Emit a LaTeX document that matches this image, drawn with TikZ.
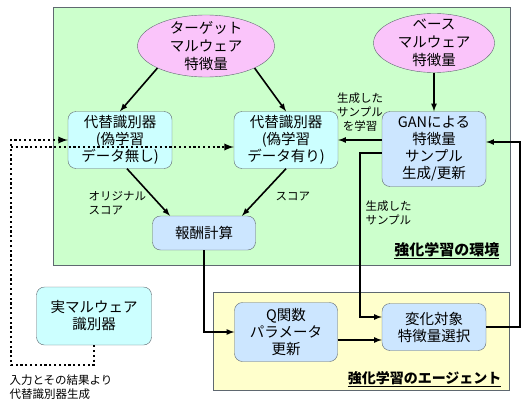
\documentclass[tikz,border=0pt]{standalone}
\usepackage{fontspec}
\setmainfont{Noto Sans CJK JP}
\usepackage{xcolor}
\usepackage{tikz}
\usetikzlibrary{arrows,calc,positioning,shapes.geometric}
\definecolor{hellgruen}{HTML}{CCFFCC}
\definecolor{hellgelb}{HTML}{FFFFCC}
\definecolor{rosa}{HTML}{FAC4FA}
\definecolor{hellcyan}{HTML}{CCFFFF}
\definecolor{hellblau}{HTML}{CCE6FF}
\definecolor{rahmen}{HTML}{5F6870}

\begin{document}
\begin{tikzpicture}[x=1pt,y=-1pt,
  gross/.style={font=\fontsize{14.5}{17}\selectfont},
  klein/.style={font=\fontsize{11.5}{14}\selectfont},
  kasten/.style={gross,draw=rahmen,rounded corners=8pt,align=center,inner sep=2pt},
  ersatz/.style={kasten,fill=hellcyan,minimum width=104pt,minimum height=57pt},
  blau/.style={kasten,fill=hellblau,minimum width=104pt},
  merkmal/.style={ellipse,draw=rahmen,fill=rosa,align=center,inner sep=-6pt,font=\fontsize{14.5}{18}\selectfont},
  pfeil/.style={line width=1.6pt,-latex},
  punkt/.style={line width=2.2pt,dash pattern=on 2.2pt off 2.6pt,-latex}]
\useasboundingbox (0,0) rectangle (530,407);
%Umgebung und Agent
\draw[draw=rahmen,fill=hellgruen] (53,7) rectangle (510,265);
\draw[draw=rahmen,fill=hellgelb] (213,292) rectangle (509,390);
\node[anchor=east,font=\fontsize{15}{17}\selectfont\bfseries] (umgebung) at (503,251) {\underline{強化学習の環境}};
\node[anchor=east,font=\fontsize{14}{17}\selectfont\bfseries] (agent) at (505,379) {\underline{強化学習のエージェント}};
%Knoten
\node[merkmal,minimum width=137pt,minimum height=62pt] (ziel) at (206,46) {ターゲット\\マルウェア\\特徴量};
\node[merkmal,minimum width=121pt,minimum height=59pt] (basis) at (434,43) {ベース\\マルウェア\\特徴量};
\node[ersatz] (ersatzA) at (120,140) {代替識別器\\(偽学習\\データ無し)};
\node[ersatz] (ersatzB) at (286,140) {代替識別器\\(偽学習\\データ有り)};
\node[blau,minimum height=75pt] (gan) at (434,149) {GANによる\\特徴量\\サンプル\\生成/更新};
\node[blau,minimum width=103pt,minimum height=34pt] (belohnung) at (204,233) {報酬計算};
\node[kasten,fill=hellcyan,minimum width=115pt,minimum height=58pt] (echt) at (94,316) {実マルウェア\\識別器};
\node[blau,minimum width=103pt,minimum height=59pt] (qfunk) at (286,332) {Q関数\\パラメータ\\更新};
\node[blau,minimum height=47pt] (auswahl) at (434,327) {変化対象\\特徴量選択};
%Pfeile
\draw[pfeil] (ziel.south west) -- (ersatzA.north);
\draw[pfeil] (ziel.south east) -- (ersatzB.north);
\draw[pfeil] (basis) -- (gan);
\draw[pfeil] (gan.west |- ersatzB) -- (ersatzB.east);
\draw[pfeil] ([xshift=7pt]ersatzA.south) -- ([xshift=-34pt]belohnung.north);
\draw[pfeil] (ersatzB.south) -- ([xshift=38pt]belohnung.north);
\draw[pfeil] (belohnung.south) |- (qfunk.west);
\draw[pfeil] ([yshift=-8pt]qfunk.east) -- ([yshift=-8pt]qfunk.east -| auswahl.west);
\draw[pfeil] ([yshift=-4pt]gan.west) -- ++(-22,0) |- ([yshift=10pt]auswahl.west);
\draw[pfeil] (auswahl.east) -- ++(34,0) |- ([yshift=7pt]gan.east);
%gepunktete Linien
\coordinate (ecke) at (11,365);
\coordinate (abzweig) at (11,147);
\draw[punkt] (echt.south) |- (ecke) |- (ersatzA.west);
\draw[punkt] (abzweig) -- (abzweig -| ersatzB.west);
%Beschriftungen
\node[klein,align=center] (lernen) at (360,112) {生成した\\サンプル\\を学習};
\node[klein,align=left,anchor=west] (erzeugt) at (362,213) {生成した\\サンプル};
\node[klein,align=left,anchor=west] (original) at (85,203) {オリジナル\\スコア};
\node[klein,anchor=west] (punktzahl) at (272,197) {スコア};
\node[klein,align=left,anchor=west] (eingabe) at (6,387) {入力とその結果より\\代替識別器生成};
\end{tikzpicture}
\end{document}
